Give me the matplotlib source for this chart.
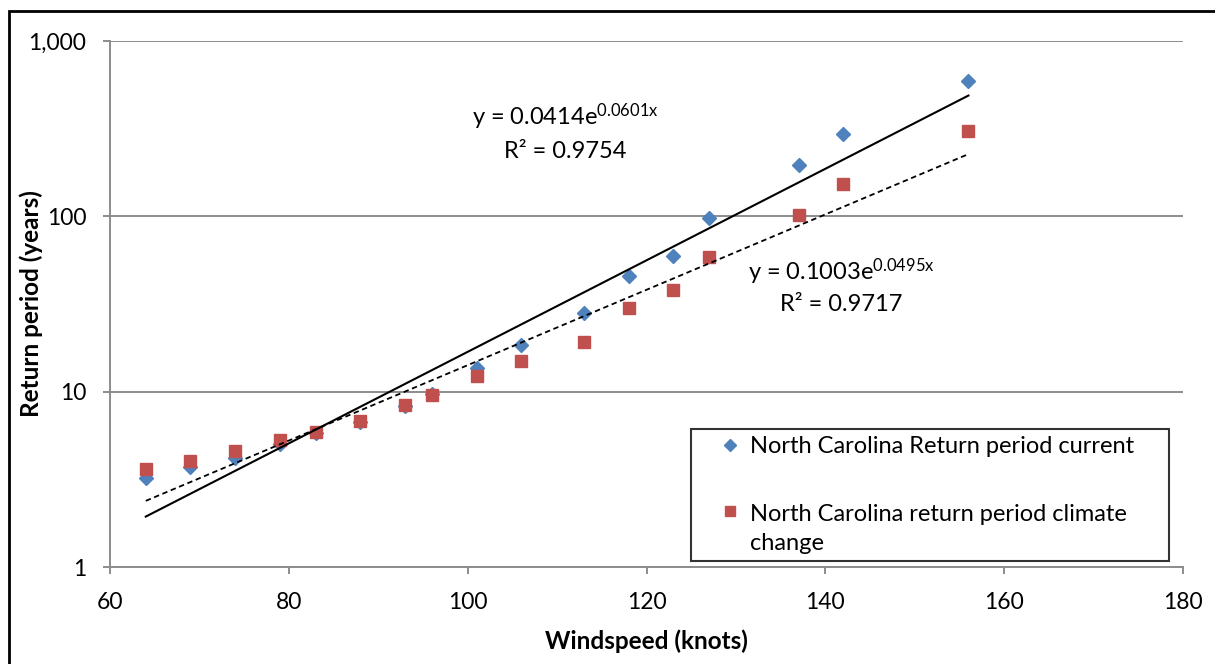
import numpy as np
import matplotlib
matplotlib.use("Agg")
import matplotlib.pyplot as plt
from matplotlib.patches import Rectangle
from matplotlib.legend_handler import HandlerLine2D

plt.rcParams['font.family'] = ['Lato', 'DejaVu Sans']
plt.rcParams['mathtext.fontset'] = 'custom'
plt.rcParams['mathtext.rm'] = 'Lato'
plt.rcParams['mathtext.it'] = 'Lato'

windspeed = [64, 69, 74, 79, 83, 88, 93, 96, 101, 106, 113, 118, 123, 127, 137, 142, 156]
current = [3.2, 3.7, 4.2, 5.0, 5.8, 6.7, 8.3, 9.7, 13.6, 18.5, 28, 45.5, 59.5, 98, 196, 295, 592]
climate = [3.6, 4.0, 4.6, 5.3, 5.9, 6.8, 8.4, 9.6, 12.3, 15.0, 19.2, 30, 38, 59, 102, 153, 307]

# exponential trendlines as reported (a, b) for y = a*exp(b*x)
fit_current = (0.0414, 0.0601)
fit_climate = (0.1003, 0.0495)
r2_current = 0.9754
r2_climate = 0.9717

blue = '#4F81BD'
red = '#C0504D'
grey = '#8C8C8C'
fs = 17


class MarkerRight(HandlerLine2D):
    """marker sits at the right of the handle box, aligned with the first text line"""
    def __init__(self, lift=0, **kw):
        super().__init__(**kw)
        self.lift = lift

    def create_artists(self, legend, orig_handle, xdescent, ydescent,
                       width, height, fontsize, trans):
        arts = super().create_artists(legend, orig_handle, xdescent,
                                      ydescent - 2 * self.lift, width, height,
                                      fontsize, trans)
        for a in arts:
            xd = a.get_xdata()
            a.set_xdata(np.full_like(np.asarray(xd, dtype=float), width - 10))
        return arts


fig = plt.figure(figsize=(12.15, 6.64), dpi=100)
ax = fig.add_axes([110 / 1215, 1 - 567 / 664, 1073 / 1215, 526 / 664])

h1, = ax.plot(windspeed, current, linestyle='none', marker='D', markersize=7.5,
              color=blue, label='North Carolina Return period current', zorder=3)
h2, = ax.plot(windspeed, climate, linestyle='none', marker='s', markersize=9,
              color=red, label='North Carolina return period climate\nchange', zorder=4)

xx = np.linspace(windspeed[0], windspeed[-1], 50)
ax.plot(xx, fit_current[0] * np.exp(fit_current[1] * xx), color='black', lw=1.5, zorder=5)
ax.plot(xx, fit_climate[0] * np.exp(fit_climate[1] * xx), color='black', lw=1.3,
        linestyle=(0, (3, 2)), zorder=5)

ax.set_yscale('log')
ax.set_xlim(60, 180)
ax.set_ylim(1, 1000)
ax.set_xticks(range(60, 181, 20))
ax.set_yticks([1, 10, 100, 1000])
ax.set_yticklabels(['1', '10', '100', '1,000'])
ax.minorticks_off()
ax.yaxis.grid(True, color=grey, lw=1.4)
ax.set_axisbelow(True)
for s in ['top', 'right']:
    ax.spines[s].set_visible(False)
for s in ['left', 'bottom']:
    ax.spines[s].set_color(grey)
    ax.spines[s].set_linewidth(1.4)
ax.tick_params(axis='both', colors=grey, width=1.4, length=5, labelsize=16.5,
               labelcolor='black')
ax.tick_params(axis='x', pad=13)
ax.tick_params(axis='y', pad=12)

ax.set_xlabel('Windspeed (knots)', fontsize=17.5, fontweight='bold', labelpad=12)
ax.set_ylabel('Return period (years)', fontsize=17.5, fontweight='bold', va='center')
ax.yaxis.set_label_coords(-79 / 1073, 0.5)

ax.text(565 / 1215, 1 - 117 / 664,
        r'y = %.4fe$^{%.4fx}$' % fit_current, transform=fig.transFigure,
        ha='center', va='center', fontsize=fs)
ax.text(565 / 1215, 1 - 151 / 664, 'R² = %.4f' % r2_current,
        transform=fig.transFigure, ha='center', va='center', fontsize=fs)
ax.text(841 / 1215, 1 - 272 / 664,
        r'y = %.4fe$^{%.4fx}$' % fit_climate, transform=fig.transFigure,
        ha='center', va='center', fontsize=fs)
ax.text(841 / 1215, 1 - 305 / 664, 'R² = %.4f' % r2_climate,
        transform=fig.transFigure, ha='center', va='center', fontsize=fs)

leg = ax.legend(handles=[h1, h2], loc='upper left', mode='expand',
                bbox_to_anchor=(691 / 1215, 1 - 559 / 664, 478 / 1215, 130 / 664),
                bbox_transform=fig.transFigure, fontsize=fs, frameon=True,
                fancybox=False, edgecolor='black', markerscale=0.8,
                handlelength=1.95, handletextpad=0.25, labelspacing=2.0,
                borderpad=0.3, borderaxespad=0,
                handler_map={h1: MarkerRight(), h2: MarkerRight(lift=fs * 0.78)})
leg.get_frame().set_linewidth(1.5)
leg.set_zorder(6)
for t in leg.get_texts():
    t.set_linespacing(1.45)

fig.patches.append(Rectangle((9 / 1215, -0.1), 1.2, 1 - 11 / 664 + 0.1,
                             transform=fig.transFigure, fill=False,
                             edgecolor='black', lw=2))

fig.savefig('out.png', dpi=100)
